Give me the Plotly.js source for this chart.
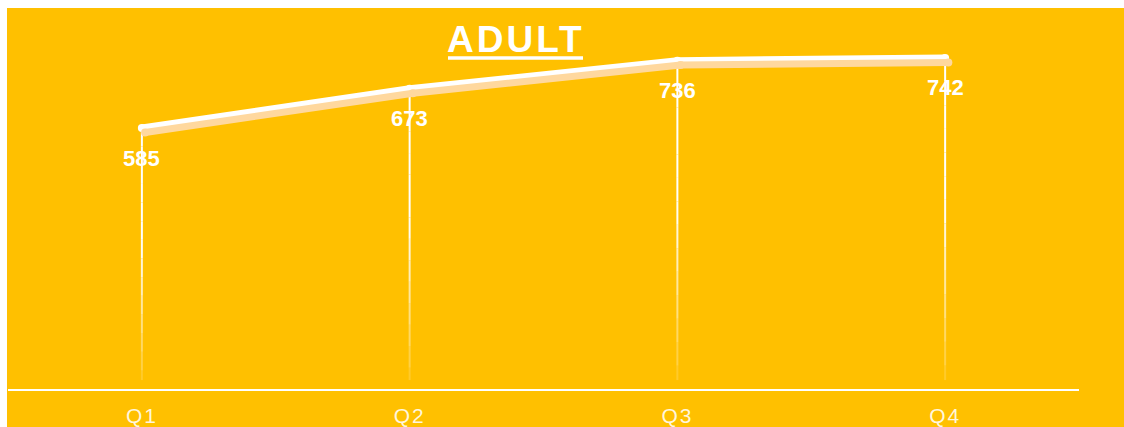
<!DOCTYPE html>
<html>
<head>
<meta charset="utf-8">
<script src="https://cdn.plot.ly/plotly-3.0.1.min.js"></script>
<style>html,body{margin:0;padding:0;background:#fff;}#chart{width:1124px;height:427px;}</style>
</head>
<body>
<div id="chart"></div>
<script>
const quarters = ["Q1", "Q2", "Q3", "Q4"];
const adultValues = [585, 673, 736, 742];
const chartTitle = "ADULT";

const YELLOW = "#FFC000";
const yMax = 854;
const shadowDy = 10;     // value units
const shadowDx = 0.012;  // category units

const traces = [
  {
    x: quarters, y: adultValues, xaxis: "x2", yaxis: "y2",
    type: "scatter", mode: "lines+markers",
    line: {color: "#FFD89E", width: 7},
    marker: {color: "#FFD89E", size: 8},
    hoverinfo: "skip", showlegend: false
  },
  {
    x: quarters, y: adultValues,
    type: "scatter", mode: "lines+markers",
    line: {color: "#FFFFFF", width: 7},
    marker: {color: "#FFFFFF", size: 8},
    hoverinfo: "skip", showlegend: false
  }
];

const shapes = [];
const nSeg = 14;
quarters.forEach((q, i) => {
  const v = adultValues[i];
  for (let s = 0; s < nSeg; s++) {
    const t0 = s / nSeg, t1 = (s + 1) / nSeg;
    const op = t0 < 0.4 ? 1 : Math.max(0.05, 1 - (t0 - 0.4) / 0.6 * 0.95);
    shapes.push({
      type: "line", xref: "x", yref: "y", layer: "below",
      x0: q, x1: q, y0: v * (1 - t0), y1: v * (1 - t1) + (s === nSeg - 1 ? 20 : 0),
      line: {color: "rgba(255,255,255," + op.toFixed(3) + ")", width: 2}
    });
  }
});
// title underline
shapes.push({type: "line", xref: "paper", yref: "paper", layer: "above",
  x0: (448 - 8) / 1071, x1: (583 - 8) / 1071, y0: (389 - 58) / 381, y1: (389 - 58) / 381,
  line: {color: "#FFFFFF", width: 3.5}});
// white outer strips (top and left)
shapes.push({type: "rect", xref: "paper", yref: "paper", layer: "above",
  x0: -0.02, x1: 1.06, y0: 1, y1: 1.03, line: {width: 0}, fillcolor: "#FFFFFF"});
shapes.push({type: "rect", xref: "paper", yref: "paper", layer: "above",
  x0: -0.02, x1: -0.00094, y0: -0.12, y1: 1.03, line: {width: 0}, fillcolor: "#FFFFFF"});

const annotations = quarters.map((q, i) => ({
  x: q, y: adultValues[i], xref: "x", yref: "y",
  text: String(adultValues[i]), showarrow: false,
  yshift: -30, xanchor: "center", yanchor: "middle",
  font: {family: "Arial, Liberation Sans, sans-serif", size: 22, color: "#FFFFFF", weight: "bold"}
}));
annotations.push({
  xref: "paper", yref: "paper", x: (516 - 8) / 1071, y: (389 - 39) / 381,
  xanchor: "center", yanchor: "middle", showarrow: false,
  text: "<span style=\"letter-spacing:3px\"><b>" + chartTitle + "</b></span>",
  font: {family: "Arial, Liberation Sans, sans-serif", size: 37, color: "#FFFFFF"}
});

const layout = {
  width: 1124, height: 427,
  margin: {l: 8, r: 45, t: 8, b: 38, pad: 0},
  paper_bgcolor: YELLOW, plot_bgcolor: YELLOW,
  showlegend: false,
  xaxis: {
    type: "category", categoryarray: quarters, range: [-0.5, 3.5],
    tickvals: quarters,
    ticktext: quarters.map(q => "<span style=\"letter-spacing:2px\">" + q + "</span>"),
    showgrid: false, zeroline: false, showline: true, linecolor: "#FFFFFF", linewidth: 2,
    ticks: "", ticklabelstandoff: 7,
    tickfont: {family: "Arial, Liberation Sans, sans-serif", size: 21, color: "#FFF6DC"},
    fixedrange: true
  },
  xaxis2: {
    type: "category", categoryarray: quarters, overlaying: "x",
    range: [-0.5 - shadowDx, 3.5 - shadowDx], visible: false, fixedrange: true
  },
  yaxis: {range: [0, yMax], visible: false, showgrid: false, zeroline: false, fixedrange: true},
  yaxis2: {range: [shadowDy, yMax + shadowDy], overlaying: "y", visible: false, fixedrange: true},
  shapes: shapes,
  annotations: annotations
};

Plotly.newPlot("chart", traces, layout, {displayModeBar: false, staticPlot: true});
</script>
</body>
</html>
